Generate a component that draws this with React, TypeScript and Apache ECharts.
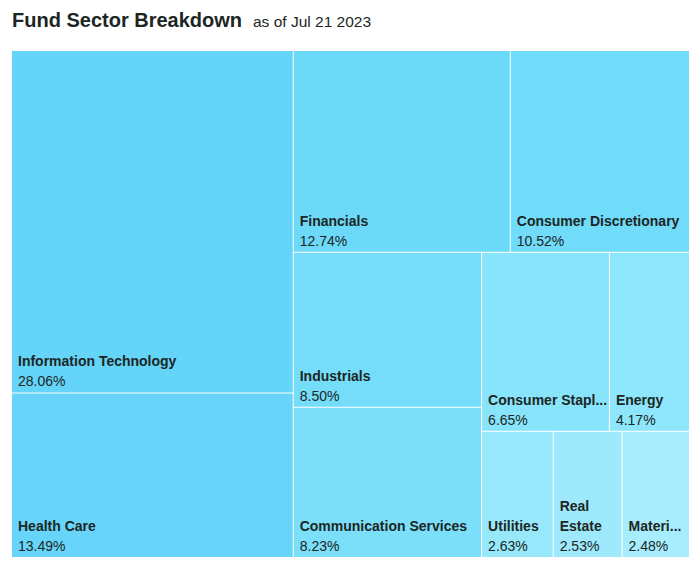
import React, { useEffect, useRef } from "react";
import * as echarts from "echarts";

const sectors = [
  "Information Technology",
  "Health Care",
  "Financials",
  "Consumer Discretionary",
  "Industrials",
  "Communication Services",
  "Consumer Staples",
  "Energy",
  "Utilities",
  "Real Estate",
  "Materials",
];
const weights = [28.06, 13.49, 12.74, 10.52, 8.5, 8.23, 6.65, 4.17, 2.63, 2.53, 2.48];
const palette = [
  "#64D4F8",
  "#66D5F9",
  "#6CD9F9",
  "#71DBFA",
  "#75DDFA",
  "#7BDFFA",
  "#87E4FB",
  "#8DE6FB",
  "#98E8FC",
  "#9EEAFC",
  "#A7EDFD",
];
const wrapNames = ["Real Estate"];
const titleText = "Fund Sector Breakdown";
const subtitleText = "as of Jul 21 2023";

const FONT = "'Liberation Sans', Arial, Helvetica, sans-serif";
const INK = "#1c2624";
const LINE_H = 20;

export default function App() {
  const ref = useRef<HTMLDivElement>(null);
  useEffect(() => {
    if (!ref.current) return;
    const chart = echarts.init(ref.current, null, { renderer: "svg" });
    const data = sectors.map((name, i) => ({ name, value: weights[i], itemStyle: { color: palette[i] } }));
    chart.setOption({
      animation: false,
      title: [
        {
          text: titleText,
          left: 12,
          top: 10,
          padding: 0,
          textStyle: { fontFamily: FONT, fontSize: 20, fontWeight: "bold", color: INK, lineHeight: 20 },
        },
        {
          text: subtitleText,
          left: 253,
          top: 14,
          padding: 0,
          textStyle: { fontFamily: FONT, fontSize: 15.5, fontWeight: "normal", color: INK, lineHeight: 15.5 },
        },
      ],
      tooltip: { show: false },
      series: [
        {
          type: "treemap",
          left: 12,
          top: 51,
          width: 677,
          height: 506,
          roam: false,
          nodeClick: false,
          squareRatio: 1.0884,
          sort: "desc",
          breadcrumb: { show: false },
          itemStyle: { borderWidth: 0, gapWidth: 1 },
          emphasis: { disabled: true },
          label: {
            show: true,
            position: "insideTopLeft",
            distance: 0,
            padding: [0, 3.8, 0, 2],
            overflow: "truncate",
            ellipsis: "...",
            formatter: (p: any) => {
              const name: string = p.name;
              const nameLines = wrapNames.indexOf(name) >= 0 ? name.split(" ") : [name];
              return nameLines.map((s) => `{n|${s}}`).join("\n") + `\n{v|${Number(p.value).toFixed(2)}%}`;
            },
            rich: {
              n: { fontFamily: FONT, fontSize: 14, fontWeight: "bold", color: INK, lineHeight: LINE_H },
              v: { fontFamily: FONT, fontSize: 14, fontWeight: "normal", color: INK, lineHeight: LINE_H },
            },
          },
          labelLayout: (p: any) => {
            const txt: string = p.text || "";
            const lines = txt.split("\n").length;
            return {
              x: p.rect.x + 4,
              y: p.rect.y + p.rect.height - lines * LINE_H - 1,
            };
          },
          data,
        },
      ],
    });
    return () => chart.dispose();
  }, []);
  return <div ref={ref} style={{ position: "absolute", left: 0, top: 0, width: 700, height: 573 }} />;
}
